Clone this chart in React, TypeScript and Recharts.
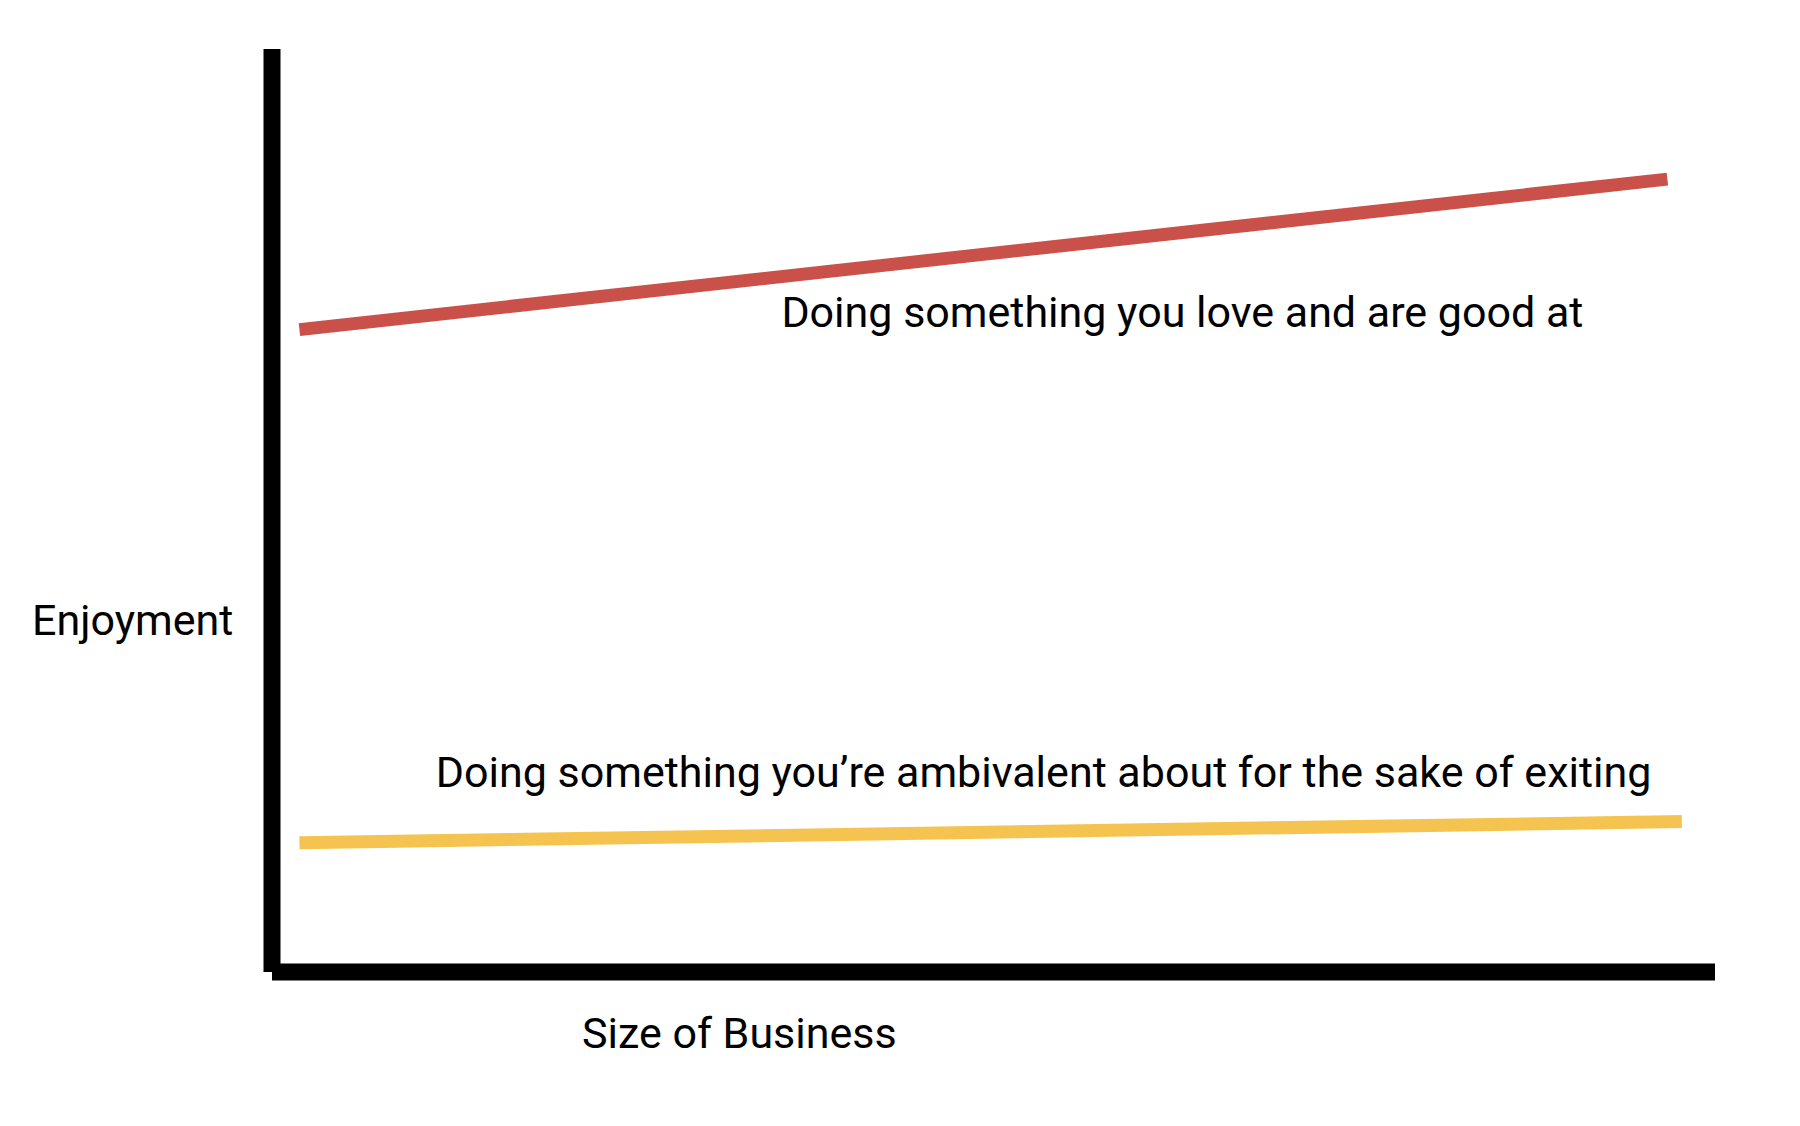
import React from 'react';
import { LineChart, Line, XAxis, YAxis, ReferenceDot, Label } from 'recharts';

// values (both axes run 0..100, no ticks)
const loveSeries = [
  { x: 1.9, y: 69.6 },
  { x: 96.7, y: 85.9 },
];
const ambivalentSeries = [
  { x: 1.9, y: 14.0 },
  { x: 97.7, y: 16.3 },
];
const loveLabel = 'Doing something you love and are good at';
const ambivalentLabel = 'Doing something you\u2019re ambivalent about for the sake of exiting';
const xTitle = 'Size of Business';
const yTitle = 'Enjoyment';

const FONT = 'Roboto, "Noto Sans", sans-serif';

const textAt = (value: string, dx: number, dy: number) => (props: any) => {
  const vb = props.viewBox || {};
  return (
    <text x={(vb.x || 0) + dx} y={(vb.y || 0) + dy} fontFamily={FONT} fontSize={43} fill="#000" textAnchor="start">
      {value}
    </text>
  );
};

export default function App() {
  return (
    <div style={{ width: 1792, height: 1110 }}>
      <LineChart width={1792} height={1110} margin={{ top: 41, right: 85, left: 263, bottom: 145 }}>
        <XAxis
          type="number"
          dataKey="x"
          domain={[0, 100]}
          height={1}
          tick={false}
          tickLine={false}
          axisLine={{ stroke: '#000', strokeWidth: 17 }}
        >
          <Label content={textAt(xTitle, 310, 76)} />
        </XAxis>
        <YAxis
          type="number"
          dataKey="y"
          domain={[0, 100]}
          width={1}
          tick={false}
          tickLine={false}
          axisLine={{ stroke: '#000', strokeWidth: 17 }}
        >
          <Label content={textAt(yTitle, -239, 586)} />
        </YAxis>
        <Line
          data={loveSeries}
          dataKey="y"
          stroke="#C9514A"
          strokeWidth={13}
          strokeLinecap="butt"
          dot={false}
          activeDot={false}
          isAnimationActive={false}
        />
        <Line
          data={ambivalentSeries}
          dataKey="y"
          stroke="#F5C450"
          strokeWidth={13}
          strokeLinecap="butt"
          dot={false}
          activeDot={false}
          isAnimationActive={false}
        />
        <ReferenceDot x={35.3} y={69.9} r={0} stroke="none" ifOverflow="visible">
          <Label content={textAt(loveLabel, 0, 0)} />
        </ReferenceDot>
        <ReferenceDot x={11.35} y={20.0} r={0} stroke="none" ifOverflow="visible">
          <Label content={textAt(ambivalentLabel, 0, 0)} />
        </ReferenceDot>
      </LineChart>
    </div>
  );
}
